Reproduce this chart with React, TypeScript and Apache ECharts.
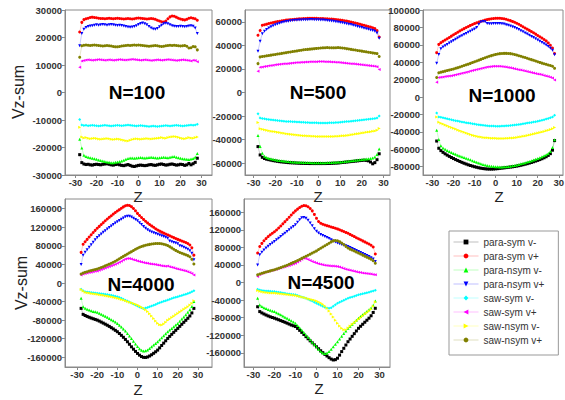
import React, { useEffect, useRef } from "react";
import * as echarts from "echarts";

// z positions of the samples
const Z = [
  -28, -27, -26, -25, -24, -23, -22, -21, -20, -19,
  -18, -17, -16, -15, -14, -13, -12, -11, -10, -9,
  -8, -7, -6, -5, -4, -3, -2, -1, 0, 1,
  2, 3, 4, 5, 6, 7, 8, 9, 10, 11,
  12, 13, 14, 15, 16, 17, 18, 19, 20, 21,
  22, 23, 24, 25, 26, 27, 28,
];

const SERIES_NAMES = [
  "para-sym v-", "para-sym v+", "para-nsym v-", "para-nsym v+",
  "saw-sym v-", "saw-sym v+", "saw-nsym v-", "saw-nsym v+",
];

// ---------- N=100 (values in thousands) ----------
const n100_psm = [
  -22.6, -25.5, -26, -26.2, -26.1, -26.3, -26.4, -26.2, -26.1, -26.2,
  -26.3, -26.1, -26, -25.9, -26.1, -26.3, -26.4, -26.2, -26.1, -26.3,
  -26.5, -26.6, -26.4, -26.2, -26.5, -26.8, -26.9, -26.7, -26.5, -26.4,
  -26.5, -26.6, -26.5, -26.3, -26.2, -26.4, -26.5, -26.3, -26.1, -26,
  -26.2, -26.4, -26.3, -26.1, -26, -26.2, -26.4, -26.3, -26.1, -26.2,
  -26.5, -26.3, -25.8, -26.3, -25.9, -25.4, -23.9,
];
const n100_psp = [
  22, 25.5, 26.5, 26.8, 27, 27.3, 27.4, 27.3, 27.2, 27,
  26.9, 26.9, 26.8, 26.9, 27, 26.9, 26.8, 26.9, 27, 26.9,
  26.8, 26.7, 26.8, 26.9, 26.8, 26.7, 26.8, 27, 27.1, 27,
  26.9, 26.8, 26.7, 26.8, 26.9, 26.8, 26.6, 26.3, 26, 25.7,
  25.6, 26, 26.8, 27.5, 27.8, 27.7, 27.4, 27, 26.7, 26.5,
  26.4, 26.6, 27, 27.2, 27, 26.8, 26.3,
];
const n100_pnm = [
  -17, -20.2, -22.8, -23.3, -23.5, -23.7, -23.9, -24.1, -24.3, -24.5,
  -24.7, -24.9, -25.1, -25.3, -25.4, -25.5, -25.5, -25.4, -25.3, -25.1,
  -24.9, -24.6, -24.3, -24, -23.8, -23.8, -23.9, -23.8, -23.7, -23.6,
  -23.7, -23.8, -23.7, -23.6, -23.5, -23.6, -23.7, -23.8, -23.7, -23.6,
  -23.5, -23.6, -23.7, -23.5, -23.4, -23.3, -23.5, -23.7, -23.9, -24.1,
  -24.2, -24.3, -24.4, -24.2, -24, -23.5, -22.2,
];
const n100_pnp = [
  17, 21.5, 23, 23.6, 24, 24.2, 24.3, 24.5, 24.6, 24.5,
  24.6, 24.7, 24.6, 24.5, 24.6, 24.7, 24.6, 24.5, 24.4, 24.5,
  24.4, 24.2, 24, 23.8, 23.7, 23.8, 24, 24.3, 24.7, 25.1,
  25.3, 25, 24.6, 24, 23.5, 23.1, 23, 23.3, 23.9, 24.5,
  25, 25.2, 25, 24.6, 24.3, 24.1, 24, 24, 24.1, 24,
  23.9, 24, 24.2, 24.3, 24.1, 23.5, 21.5,
];
const n100_ssm = [
  -9.8, -11.8, -12, -11.9, -12.1, -12, -11.9, -12, -12.1, -12.2,
  -12.1, -12, -11.9, -12, -12.1, -12.2, -12.1, -12, -11.9, -12,
  -12.1, -12, -11.9, -11.8, -11.9, -12, -12.1, -12.2, -12.1, -12,
  -12.1, -12.2, -12.3, -12.4, -12.3, -12.2, -12.3, -12.4, -12.3, -12.2,
  -12.1, -12, -12.1, -12.2, -12.1, -12, -11.9, -12, -12.1, -12.2,
  -12.1, -12, -11.9, -11.8, -11.9, -11.8, -11.5,
];
const n100_ssp = [
  9.2, 11.5, 11.6, 11.8, 11.9, 11.8, 11.7, 11.8, 11.9, 12,
  11.9, 11.8, 11.7, 11.8, 11.9, 11.8, 11.7, 11.8, 11.9, 12,
  11.9, 11.8, 11.8, 11.9, 12, 12.1, 12, 11.9, 11.8, 11.7,
  11.8, 11.9, 11.8, 11.7, 11.6, 11.7, 11.8, 11.9, 11.8, 11.7,
  11.8, 11.9, 12, 11.9, 11.8, 11.7, 11.6, 11.7, 11.8, 11.9,
  11.8, 11.7, 11.6, 11.5, 11.7, 11.6, 11.2,
];
const n100_snm = [
  -12.6, -16.2, -16.5, -16.4, -16.6, -16.8, -16.7, -16.6, -16.7, -16.9,
  -17, -16.9, -16.8, -16.7, -16.8, -17, -17.1, -17, -16.9, -17,
  -17.2, -17.4, -17.5, -17.6, -17.4, -17.1, -16.9, -16.8, -16.9, -17,
  -16.9, -16.8, -16.7, -16.8, -16.9, -16.8, -16.7, -16.6, -16.5, -16.4,
  -16.5, -16.6, -16.4, -16.2, -16.1, -16, -16.1, -16.3, -16.5, -16.7,
  -16.8, -16.6, -16.4, -16.5, -16.6, -16.4, -16.2,
];
const n100_snp = [
  12.8, 17, 17.2, 17.3, 17.2, 17.1, 17.2, 17.3, 17.2, 17.1,
  17, 16.9, 17, 17.1, 17, 16.9, 16.7, 16.6, 16.6, 16.7,
  16.9, 17, 17.1, 17.2, 17.1, 17.2, 17.3, 17.2, 17.3, 17.2,
  17.1, 17, 16.9, 16.8, 16.9, 17, 17.1, 17, 16.8, 16.7,
  16.8, 17, 17.1, 17.2, 17.1, 17.2, 17.1, 17, 16.9, 17,
  17.1, 16.8, 16.2, 16.3, 16.7, 16.6, 15.5,
];

// ---------- N=500 ----------
const n500_psm = [
  -45.9, -53, -55, -56, -56.6, -57, -57.4, -57.8, -58.1, -58.4,
  -58.7, -58.9, -59.1, -59.3, -59.5, -59.6, -59.7, -59.8, -59.9, -60,
  -60.1, -60.1, -60.2, -60.2, -60.3, -60.3, -60.3, -60.3, -60.3, -60.3,
  -60.3, -60.3, -60.2, -60.2, -60.1, -60, -59.9, -59.8, -59.6, -59.4,
  -59.2, -59, -58.8, -58.6, -58.4, -58.2, -58, -57.8, -57.6, -57.4,
  -57.6, -58, -59, -60.5, -59.5, -57, -52,
];
const n500_psp = [
  48.6, 52.6, 57, 57.5, 58, 58.5, 59, 59.4, 59.8, 60.2,
  60.5, 60.8, 61.1, 61.4, 61.6, 61.8, 62, 62.2, 62.4, 62.5,
  62.6, 62.7, 62.8, 62.9, 63, 63, 62.9, 62.9, 62.8, 62.8,
  62.7, 62.6, 62.5, 62.4, 62.3, 62.1, 61.9, 61.7, 61.5, 61.2,
  60.9, 60.6, 60.2, 59.8, 59.4, 59, 58.5, 58, 57.5, 57,
  56.5, 56, 55.5, 55, 54.2, 52.5, 47,
];
const n500_pnm = [
  -36.5, -45.9, -51.5, -54, -55.2, -55.8, -56.3, -56.7, -57.1, -57.4,
  -57.7, -58, -58.2, -58.4, -58.6, -58.8, -58.9, -59, -59.1, -59.2,
  -59.2, -59.3, -59.3, -59.4, -59.4, -59.5, -59.5, -59.5, -59.5, -59.5,
  -59.5, -59.5, -59.4, -59.4, -59.3, -59.2, -59.1, -59, -58.9, -58.7,
  -58.5, -58.3, -58.1, -57.9, -57.7, -57.5, -57.3, -57.1, -56.9, -56.7,
  -56.5, -56.2, -55.9, -55.5, -54.8, -52.5, -48,
];
const n500_pnp = [
  35, 43.5, 49.8, 52, 53.5, 54.8, 55.8, 56.7, 57.5, 58.2,
  58.8, 59.3, 59.8, 60.2, 60.5, 60.8, 61, 61.2, 61.4, 61.5,
  61.6, 61.7, 61.8, 61.8, 61.9, 61.9, 61.8, 61.8, 61.7, 61.6,
  61.5, 61.3, 61.1, 60.9, 60.7, 60.4, 60.1, 59.8, 59.5, 59.2,
  58.8, 58.4, 58, 57.6, 57.1, 56.6, 56.1, 55.6, 55.1, 54.6,
  54.1, 53.6, 53.1, 52.6, 52, 50.5, 46,
];
const n500_ssm = [
  -18, -21.7, -22, -22.3, -22.6, -22.9, -23.1, -23.3, -23.5, -23.7,
  -23.9, -24.1, -24.3, -24.5, -24.6, -24.7, -24.8, -24.9, -25, -25.1,
  -25.2, -25.3, -25.4, -25.5, -25.6, -25.6, -25.7, -25.7, -25.8, -25.8,
  -25.8, -25.8, -25.8, -25.7, -25.7, -25.6, -25.5, -25.4, -25.3, -25.1,
  -24.9, -24.7, -24.5, -24.3, -24.1, -23.9, -23.7, -23.5, -23.3, -23.1,
  -22.9, -22.7, -22.5, -22.3, -22.1, -21.6, -20,
];
const n500_ssp = [
  18, 21.4, 21.7, 22, 22.3, 22.6, 22.9, 23.2, 23.5, 23.7,
  23.9, 24.1, 24.3, 24.5, 24.7, 24.9, 25.1, 25.3, 25.4, 25.5,
  25.6, 25.7, 25.8, 25.9, 26, 26, 26.1, 26.1, 26.2, 26.2,
  26.2, 26.1, 26.1, 26, 25.9, 25.8, 25.7, 25.6, 25.5, 25.3,
  25.1, 24.9, 24.7, 24.5, 24.3, 24.1, 23.9, 23.7, 23.5, 23.3,
  23.1, 22.9, 22.7, 22.5, 22.3, 21.8, 19.5,
];
const n500_snm = [
  -25.4, -30.8, -31.2, -31.6, -32, -32.4, -32.8, -33.1, -33.4, -33.7,
  -34, -34.3, -34.6, -34.9, -35.2, -35.5, -35.7, -35.9, -36.1, -36.3,
  -36.5, -36.7, -36.8, -36.9, -37, -37.1, -37.2, -37.3, -37.3, -37.4,
  -37.4, -37.4, -37.4, -37.4, -37.3, -37.3, -37.2, -37.1, -37, -36.8,
  -36.6, -36.4, -36.2, -35.9, -35.6, -35.3, -35, -34.7, -34.4, -34.1,
  -33.8, -33.5, -33.2, -32.9, -32.6, -32, -30.5,
];
const n500_snp = [
  24.5, 30.2, 30.5, 30.8, 31.1, 31.4, 31.7, 32, 32.3, 32.6,
  32.9, 33.2, 33.5, 33.8, 34.1, 34.4, 34.7, 35, 35.3, 35.6,
  35.9, 36.2, 36.4, 36.6, 36.8, 37, 37.2, 37.4, 37.6, 37.8,
  37.9, 38, 38.1, 38, 37.9, 37.9, 38, 38.1, 38, 37.8,
  37.5, 37.2, 36.9, 36.6, 36.3, 36, 35.7, 35.4, 35.1, 34.8,
  34.5, 34.2, 33.9, 33.6, 33.3, 33, 30.5,
];

// ---------- N=1000 ----------
const n1000_psm = [
  -50.5, -58.8, -61.5, -63.5, -65.2, -66.7, -68.1, -69.4, -70.6, -71.8,
  -72.9, -74, -75, -76, -76.9, -77.8, -78.6, -79.3, -80, -80.6,
  -81.2, -81.7, -82.1, -82.4, -82.6, -82.7, -82.7, -82.6, -82.4, -82.2,
  -81.9, -81.6, -81.3, -81, -80.7, -80.4, -80.1, -79.7, -79.3, -78.8,
  -78.3, -77.7, -77.1, -76.5, -75.8, -75.1, -74.3, -73.5, -72.7, -71.8,
  -70.8, -69.7, -68.5, -67, -65, -61, -50,
];
const n1000_psp = [
  51, 60.5, 62.5, 64, 65.5, 67, 68.5, 70, 71.6, 73,
  74.5, 76, 77.3, 78.6, 79.9, 81.1, 82.3, 83.4, 84.4, 85.3,
  86.2, 87, 87.7, 88.4, 89, 89.5, 89.9, 90.2, 90.4, 90.5,
  90.5, 90.3, 89.9, 89.3, 88.6, 87.8, 86.9, 85.9, 84.8, 83.6,
  82.2, 80.8, 79.4, 78, 76.6, 75.2, 73.8, 72.3, 70.8, 69.3,
  67.8, 66.2, 64.5, 62.2, 59.5, 56.4, 50,
];
const n1000_pnm = [
  -38, -48.6, -56, -58.5, -60, -61.3, -62.5, -63.6, -64.7, -65.7,
  -66.7, -67.6, -68.5, -69.4, -70.3, -71.2, -72.1, -73, -74, -74.9,
  -75.8, -76.6, -77.3, -78, -78.6, -79.1, -79.5, -79.8, -80, -80.1,
  -80.2, -80.2, -80.1, -80, -79.7, -79.4, -79, -78.5, -77.9, -77.3,
  -76.7, -76, -75.3, -74.6, -73.9, -73.1, -72.3, -71.5, -70.6, -69.6,
  -68.6, -67.5, -66.2, -64.7, -62.5, -58, -49,
];
const n1000_pnp = [
  38.7, 49, 55.5, 57.5, 59, 60.5, 62, 63.5, 65, 66.4,
  67.8, 69.2, 70.5, 71.8, 73.1, 74.4, 75.7, 77, 78.3, 79.8,
  83.5, 86.3, 86.8, 86.5, 84.5, 84.2, 84.3, 84.4, 84.5, 84.5,
  84.4, 84.2, 83.8, 83.2, 82.5, 81.7, 80.8, 79.8, 78.7, 77.5,
  76.2, 74.9, 73.6, 72.3, 71, 69.7, 68.4, 67, 65.6, 64.2,
  62.8, 61.3, 59.8, 58, 56, 53.7, 48.5,
];
const n1000_ssm = [
  -18.2, -22.8, -23.3, -23.8, -24.4, -24.9, -25.5, -26, -26.6, -27.1,
  -27.6, -28.1, -28.6, -29, -29.4, -29.8, -30.2, -30.6, -31, -31.4,
  -31.8, -32.1, -32.4, -32.7, -32.9, -33.1, -33.2, -33.3, -33.4, -33.4,
  -33.4, -33.3, -33.2, -33, -32.8, -32.6, -32.4, -32.2, -31.9, -31.5,
  -31.1, -30.7, -30.3, -29.9, -29.5, -29.1, -28.6, -28.2, -27.7, -27.2,
  -26.6, -26, -25.3, -24.6, -23.8, -23, -20.9,
];
const n1000_ssp = [
  17, 22.4, 22.7, 23.1, 23.5, 23.8, 24.2, 24.6, 25, 25.6,
  26.2, 26.8, 27.4, 28, 28.6, 29.2, 29.8, 30.4, 31, 31.6,
  32.2, 32.8, 33.4, 34, 34.5, 34.9, 35.2, 35.4, 35.5, 35.5,
  35.4, 35.2, 34.9, 34.5, 34.1, 33.6, 33.1, 32.6, 32, 31.5,
  31, 30.4, 29.9, 29.3, 28.8, 28.2, 27.7, 27.1, 26.6, 26.1,
  25.5, 24.9, 24.3, 23.6, 22.9, 22, 19.7,
];
const n1000_snm = [
  -22.8, -28.8, -30, -31, -32, -33, -34, -35, -35.9, -36.8,
  -37.7, -38.6, -39.5, -40.4, -41.3, -42.2, -43, -43.8, -44.5, -45.1,
  -45.6, -46, -46.3, -46.6, -46.8, -47, -47.2, -47.3, -47.4, -47.5,
  -47.5, -47.5, -47.5, -47.4, -47.3, -47.1, -46.9, -46.6, -46.3, -45.9,
  -45.5, -45.1, -44.6, -44.1, -43.6, -43.1, -42.5, -41.9, -41.3, -40.7,
  -40.1, -39.4, -38.7, -38, -37.2, -36.3, -35,
];
const n1000_snp = [
  22.4, 28, 28.6, 29.2, 29.8, 30.4, 31, 31.6, 32.3, 33,
  33.8, 34.6, 35.4, 36.2, 37, 37.8, 38.7, 39.6, 40.6, 41.5,
  42.4, 43.3, 44.2, 45.1, 46, 46.8, 47.6, 48.3, 49, 49.5,
  49.9, 50.1, 50.2, 50.2, 50.1, 49.9, 49.5, 48.9, 48.2, 47.5,
  46.8, 46.1, 45.4, 44.6, 43.8, 43, 42.2, 41.4, 40.6, 39.8,
  39, 38.3, 37.6, 36.9, 36.2, 35.4, 33,
];

// ---------- N=4000 ----------
const n4000_psm = [
  -54.7, -67.6, -70, -72, -73.8, -75.5, -77, -78.5, -80, -82,
  -84.2, -86.4, -88.7, -91, -93.5, -96.2, -99, -102, -105, -108.8,
  -112.8, -117, -121.6, -126.6, -132, -137.5, -142.6, -147.4, -151.8, -155.5,
  -158.5, -160.2, -160.4, -159.4, -157.3, -154.6, -151.5, -148.2, -144.6, -139.8,
  -134.6, -129.6, -124.5, -119.4, -115, -110.6, -106.3, -102, -97.8, -93.4,
  -89, -84.7, -80.4, -76, -71, -64.5, -54.7,
];
const n4000_psp = [
  66, 83.5, 89, 94, 99, 104, 108.7, 113.4, 118, 122,
  126, 130, 134, 137.8, 141.5, 145, 148.5, 151.8, 155, 158,
  161, 164, 166.5, 167.5, 167, 164.5, 160.5, 155.5, 150, 145.5,
  141, 137, 133, 129.5, 126.2, 123, 120, 117, 114.2, 111.8,
  109.6, 107.5, 105.5, 103.6, 101.7, 99.8, 97.8, 95.9, 94, 92.3,
  90.6, 88.9, 87.2, 85.2, 82, 76, 60,
];
const n4000_pnm = [
  -33, -51, -54.5, -56.5, -58.2, -59.8, -61.3, -62.2, -63, -65,
  -67.2, -69.4, -71.7, -74, -76.5, -79, -81.6, -84.3, -87, -90.8,
  -94.8, -99, -103.6, -108.6, -114, -119.8, -125.5, -131.3, -137, -141.5,
  -144.8, -146.6, -146.2, -144.3, -141.2, -137.5, -133.8, -130.2, -126.6, -122.4,
  -118.2, -113.8, -109.4, -105, -101.4, -97.8, -94.2, -90.6, -87, -82.4,
  -77.8, -73.1, -68.2, -63, -57.5, -50.5, -40,
];
const n4000_pnp = [
  40, 60, 66, 71.5, 77, 82.5, 88, 93, 98, 101.8,
  105.5, 109.2, 112.8, 116.3, 119.7, 123, 126.2, 129.2, 132, 134.8,
  137.5, 140, 142.5, 144, 143.8, 142, 139.5, 137, 134, 130,
  126, 122, 118, 114.5, 112, 110, 108.2, 106.5, 105, 103.4,
  101.8, 100.2, 98.5, 96.5, 90.5, 89, 87.5, 86, 84.5, 80.5,
  79, 77, 75, 72.5, 69.5, 64, 50,
];
const n4000_ssm = [
  -13.7, -16.8, -18.7, -19.5, -20.1, -20.6, -21.1, -21.6, -22, -22.6,
  -23.2, -23.8, -24.4, -25, -25.7, -26.5, -27.4, -28.4, -29.5, -31.2,
  -33, -35, -37, -39, -41.1, -43.2, -45.3, -47.4, -49.6, -51.5,
  -53.2, -54.7, -54, -52.6, -51.1, -49.6, -48, -46.2, -44.2, -42.6,
  -41, -39.5, -38, -36.5, -35, -33.5, -32, -30.7, -29.5, -28.2,
  -26.8, -25.4, -24, -22.5, -20.8, -18.8, -16.5,
];
const n4000_ssp = [
  17, 19.5, 20.5, 21.5, 22.4, 23.3, 24.2, 25.1, 26, 27.5,
  29, 30.6, 32.2, 33.8, 35.4, 37, 38.8, 40.6, 42.4, 44.6,
  47, 49.5, 51.5, 52.8, 52.6, 51.5, 50.3, 48.9, 47.5, 46.3,
  45.2, 44.2, 43.3, 42.5, 41.7, 41, 40.3, 39.6, 38.8, 38.1,
  37.4, 36.7, 36.3, 36.5, 35.2, 33.8, 32.6, 31.3, 30, 29,
  28, 27, 25.8, 24.5, 22.8, 20.5, 17,
];
const n4000_snm = [
  -14, -17.5, -20, -21, -21.8, -22.5, -23.2, -23.9, -24.5, -25.2,
  -25.9, -26.6, -27.3, -28.1, -28.9, -29.8, -30.8, -31.9, -33, -34.2,
  -35.5, -36.9, -38.3, -39.8, -41.3, -42.8, -44.3, -45.9, -47.5, -49.6,
  -52, -54.6, -57.7, -61.5, -66, -71, -76.5, -82, -86.8, -90.2,
  -90.6, -88.5, -84.5, -80.5, -77.4, -74.4, -71.4, -68.4, -65.5, -62.6,
  -59.7, -56.8, -53.9, -51, -47.6, -43.6, -38,
];
const n4000_snp = [
  19.4, 21.5, 23, 24.4, 25.7, 26.9, 28, 29, 30, 31.7,
  33.4, 35.1, 36.9, 38.7, 40.6, 42.6, 44.7, 47, 49.6, 52.2,
  54.8, 57.4, 60, 62.5, 65, 67.5, 70, 72.5, 75, 76.8,
  78.5, 80, 81.2, 82.2, 83.2, 84, 84.6, 85, 85.2, 85,
  84.5, 83.6, 82.3, 80.6, 78.3, 75.6, 72.8, 70.2, 67.8, 65.8,
  64, 62.3, 60.7, 59, 56.5, 51, 41,
];

// ---------- N=4500 ----------
const n4500_psm = [
  -55, -66, -69, -71.5, -73.8, -75.9, -77.8, -79.5, -81, -82.8,
  -84.6, -86.5, -88.4, -90.3, -92.3, -94.4, -96.6, -98.2, -100, -104.3,
  -108.7, -113.3, -118, -123, -127.8, -132.5, -137, -141.5, -146, -150.5,
  -155, -159.3, -163.3, -167, -170.8, -174, -176, -175.3, -172, -165,
  -157, -149.5, -142, -134.5, -128.4, -122.3, -116.2, -110.1, -104, -99.4,
  -94.8, -90.2, -85.6, -81, -75.5, -68, -58.5,
];
const n4500_psp = [
  67, 82, 89, 95, 100, 104.5, 108.5, 112, 115.5, 119.5,
  124, 128.5, 133.5, 138.5, 143.5, 148.5, 153.5, 158.5, 163, 167,
  170.5, 173.5, 175, 174.5, 172.5, 168.5, 163, 155, 146, 139,
  135, 132.5, 130.8, 129.4, 128, 126.5, 125, 123.5, 122, 120,
  118, 116, 114, 112, 109.5, 107, 104.5, 102, 99.6, 97.2,
  94.8, 92.4, 90, 87.6, 85, 81, 65,
];
const n4500_pnm = [
  -35.7, -51, -54.5, -57, -59.2, -61.2, -63, -64.6, -66, -68.4,
  -70.9, -73.4, -76, -78.6, -81.3, -84.1, -86.9, -89.8, -92.7, -97.5,
  -102.6, -108, -113.4, -119, -124.5, -130, -135.5, -140.8, -146, -151.5,
  -156.5, -160.2, -161.5, -160, -156.5, -151.5, -146, -140.3, -134.5, -128.3,
  -122.2, -116.1, -110, -104, -99.4, -94.8, -90.2, -85.6, -81, -77.2,
  -73.4, -69.6, -65.8, -62, -57.6, -51.5, -42,
];
const n4500_pnp = [
  40, 63, 69, 74, 78.5, 82.5, 86.4, 90, 93.5, 97.2,
  101, 104.8, 108.6, 112.4, 116.2, 120, 123.8, 127.6, 131.5, 137,
  143, 147.5, 148, 146, 141.5, 135.5, 129, 122.5, 116.5, 112.5,
  109.5, 107, 104.8, 102.7, 100, 97.3, 94.6, 92, 89.7, 88,
  86.5, 85, 83.5, 82, 79.8, 77.5, 75.2, 73, 70.7, 68.4,
  66, 63.7, 61.4, 59, 56.5, 53.5, 48,
];
const n4500_ssm = [
  -15, -16.8, -17.8, -18.5, -19, -19.4, -19.8, -20.2, -20.5, -21.2,
  -22, -22.8, -23.6, -24.4, -25.2, -26, -26.8, -27.4, -28, -29.4,
  -31, -32.6, -34.2, -35.7, -37.8, -40, -42.2, -44.6, -47, -49.4,
  -51.6, -53.8, -55.9, -57.8, -58.6, -57, -53.9, -50.5, -47.2, -44.7,
  -42.4, -40.1, -37.9, -35.8, -34.2, -32.6, -31, -29.5, -28, -26.8,
  -25.6, -24.4, -23.2, -22, -20.6, -19.2, -17.5,
];
const n4500_ssp = [
  13.7, 18.5, 20.5, 22.4, 24.2, 25.8, 27.1, 28.1, 29, 30.4,
  31.8, 33.2, 34.6, 36, 37.4, 38.8, 40.4, 42.1, 44, 46.6,
  49.6, 52.8, 55, 54.6, 52.4, 50, 48, 46, 44.3, 42.8,
  41.5, 40.3, 39.4, 38.8, 38.3, 37.8, 37.4, 37, 36.5, 35.2,
  33.6, 32, 30.5, 29.2, 28.1, 27, 25.8, 24.7, 23.6, 22.8,
  22, 21.2, 20.4, 19.8, 19.2, 18.4, 17.5,
];
const n4500_snm = [
  -18, -20, -21, -21.8, -22.5, -23, -23.5, -23.8, -24, -24.5,
  -25, -25.5, -26, -26.5, -27, -27.6, -28.2, -28.9, -29.6, -30.6,
  -31.6, -32.8, -34, -35.3, -36.6, -37.9, -39.2, -40.5, -41.8, -44,
  -46.5, -49.6, -53.5, -58.5, -64.5, -71.5, -78.5, -85.8, -92.5, -98.5,
  -104, -107.5, -107.2, -103.5, -99, -95, -91.2, -87.4, -83.6, -79.8,
  -76, -72.2, -68.4, -64.6, -60.5, -54, -44,
];
const n4500_snp = [
  17.5, 19.5, 21, 22.5, 24, 25.3, 26.6, 27.8, 29, 30.6,
  32.3, 34, 35.8, 37.6, 39.5, 41.5, 43.6, 45.8, 48, 50.3,
  52.6, 55, 57.4, 59.8, 62.2, 64.6, 67, 69.5, 72, 75,
  78, 81, 83.8, 86.5, 89.5, 92.5, 94.8, 95.5, 95, 93,
  90, 86.5, 82.3, 78.5, 76, 73.8, 71.6, 69.3, 67, 64.7,
  62.4, 60.1, 57.8, 55.5, 53, 49.5, 44,
];

const PANEL_LABELS = ["N=100", "N=500", "N=1000", "N=4000", "N=4500"];
const X_TICKS = [-30, -20, -10, 0, 10, 20, 30];
const Y_TICKS = [
  [-30000, -20000, -10000, 0, 10000, 20000, 30000],
  [-60000, -40000, -20000, 0, 20000, 40000, 60000],
  [-80000, -60000, -40000, -20000, 0, 20000, 40000, 60000, 80000, 100000],
  [-160000, -120000, -80000, -40000, 0, 40000, 80000, 120000, 160000],
  [-160000, -120000, -80000, -40000, 0, 40000, 80000, 120000, 160000],
];
const X_RANGES = [[-35, 35], [-34, 33], [-34.5, 32], [-36, 37], [-34.5, 35]];
const Y_RANGES = [[-30000, 30000], [-70000, 70000], [-89500, 100000], [-181000, 181000], [-192000, 190000]];

const PANEL_DATA = [
  [n100_psm, n100_psp, n100_pnm, n100_pnp, n100_ssm, n100_ssp, n100_snm, n100_snp],
  [n500_psm, n500_psp, n500_pnm, n500_pnp, n500_ssm, n500_ssp, n500_snm, n500_snp],
  [n1000_psm, n1000_psp, n1000_pnm, n1000_pnp, n1000_ssm, n1000_ssp, n1000_snm, n1000_snp],
  [n4000_psm, n4000_psp, n4000_pnm, n4000_pnp, n4000_ssm, n4000_ssp, n4000_snm, n4000_snp],
  [n4500_psm, n4500_psp, n4500_pnm, n4500_pnp, n4500_ssm, n4500_ssp, n4500_snm, n4500_snp],
];

// ---------- styles / layout ----------
const COLORS = ["#000000", "#ff0000", "#00ff00", "#0000ff", "#00ffff", "#ff00ff", "#ffff00", "#808000"];
const SYMBOLS = ["rect", "circle", "triangle", "triangle", "diamond", "triangle", "triangle", "circle"];
const ROTATES = [0, 0, 0, 180, 0, 90, -90, 0];
const GRIDS = [
  { left: 65, top: 10, width: 147, height: 165 },
  { left: 245, top: 10, width: 145, height: 165 },
  { left: 423, top: 10, width: 140, height: 165 },
  { left: 65, top: 199, width: 147, height: 168 },
  { left: 244, top: 199, width: 146, height: 168 },
];
const N_POS = [[137, 92], [318, 92], [502, 95], [141, 284], [321, 282]];
const Z_POS = [[138, 196], [318, 196], [499, 196], [138, 389], [319, 388]];
const VZ_POS = [[18, 92], [21, 283]];
const FONT = "'Liberation Sans', Arial, Helvetica, sans-serif";
const AXIS_COLOR = "#8a8a8a";

function buildOption() {
  const series: any[] = [];
  PANEL_DATA.forEach((panel, p) => {
    panel.forEach((vals, s) => {
      series.push({
        type: "line",
        name: SERIES_NAMES[s],
        xAxisIndex: p,
        yAxisIndex: p,
        data: Z.map((z, i) => [z, vals[i] * 1000]),
        symbol: SYMBOLS[s],
        symbolSize: 3,
        symbolRotate: ROTATES[s],
        showSymbol: true,
        itemStyle: { color: COLORS[s] },
        lineStyle: { color: COLORS[s], width: 0.6, opacity: 0.35 },
        emphasis: { disabled: true },
        silent: true,
        clip: true,
      });
    });
  });

  const graphic: any[] = [];
  PANEL_LABELS.forEach((t, i) => {
    graphic.push({
      type: "text", x: N_POS[i][0], y: N_POS[i][1], silent: true,
      style: { text: t, fill: "#000", font: `bold 19px ${FONT}`, align: "center", verticalAlign: "middle", textAlign: "center", textVerticalAlign: "middle" },
    });
    graphic.push({
      type: "text", x: Z_POS[i][0], y: Z_POS[i][1], silent: true,
      style: { text: "Z", fill: "#222", font: `15px ${FONT}`, align: "center", verticalAlign: "middle", textAlign: "center", textVerticalAlign: "middle" },
    });
  });
  VZ_POS.forEach((pos) => {
    graphic.push({
      type: "text", x: pos[0], y: pos[1], rotation: Math.PI / 2, silent: true,
      style: { text: "Vz-sum", fill: "#222", font: `16px ${FONT}`, align: "center", verticalAlign: "middle", textAlign: "center", textVerticalAlign: "middle" },
    });
  });

  return {
    animation: false,
    backgroundColor: "#ffffff",
    grid: GRIDS.map((g) => ({
      ...g, show: true, borderColor: AXIS_COLOR, borderWidth: 1, backgroundColor: "transparent",
      containLabel: false, outerBoundsMode: "none",
    })),
    xAxis: GRIDS.map((_, i) => ({
      type: "value", gridIndex: i, min: X_RANGES[i][0], max: X_RANGES[i][1],
      axisLine: { show: true, onZero: false, lineStyle: { color: AXIS_COLOR, width: 1 } },
      axisTick: { show: true, customValues: X_TICKS, length: 3, lineStyle: { color: AXIS_COLOR } },
      axisLabel: { show: true, customValues: X_TICKS, fontSize: 9.5, fontWeight: "bold", color: "#333", fontFamily: FONT, margin: 2, formatter: (v: number) => String(v) },
      splitLine: { show: false },
    })),
    yAxis: GRIDS.map((_, i) => ({
      type: "value", gridIndex: i, min: Y_RANGES[i][0], max: Y_RANGES[i][1],
      axisLine: { show: true, onZero: false, lineStyle: { color: AXIS_COLOR, width: 1 } },
      axisTick: { show: true, customValues: Y_TICKS[i], length: 3, lineStyle: { color: AXIS_COLOR } },
      axisLabel: { show: true, customValues: Y_TICKS[i], fontSize: 9.5, fontWeight: "bold", color: "#333", fontFamily: FONT, margin: 3, formatter: (v: number) => String(v) },
      splitLine: { show: false },
    })),
    legend: {
      orient: "vertical", left: 449, top: 231, padding: [5, 14, 9, 4],
      itemWidth: 25, itemHeight: 6, itemGap: 2,
      borderColor: "#999", borderWidth: 1, backgroundColor: "#fff",
      selectedMode: false,
      lineStyle: { opacity: 0.25, width: 1 },
      textStyle: { fontSize: 10, color: "#333", fontFamily: FONT, lineHeight: 12 },
      data: SERIES_NAMES,
    },
    series,
    graphic,
  };
}

export default function App() {
  const ref = useRef<HTMLDivElement>(null);
  useEffect(() => {
    document.body.style.margin = "0";
    if (!ref.current) return;
    const chart = echarts.init(ref.current, null, { renderer: "svg" });
    chart.setOption(buildOption() as any);
    return () => chart.dispose();
  }, []);
  return <div ref={ref} style={{ width: 565, height: 400 }} />;
}
